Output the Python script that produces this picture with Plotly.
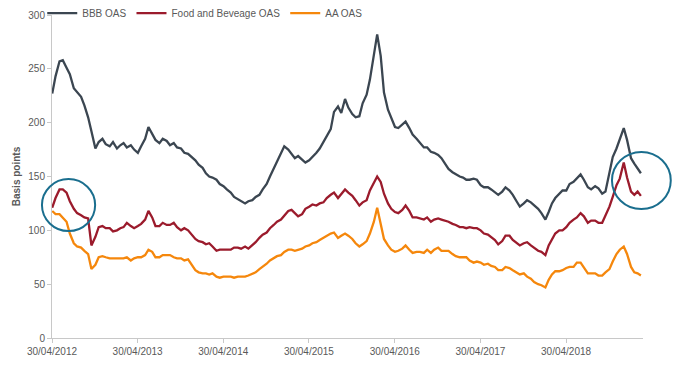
import pandas as pd
import plotly.graph_objects as go

# semi-monthly observation dates (1st and 15th of each month)
dates = pd.date_range("2012-05-01", periods=166, freq="SMS")

bbb_oas = [
    227, 243, 257, 258, 251, 245, 232, 228, 224, 216,
    205, 192, 176, 182, 185, 180, 178, 182, 176, 179,
    181, 177, 179, 175, 172, 178, 185, 196, 190, 184,
    181, 185, 183, 179, 181, 177, 176, 172, 171, 168,
    165, 161, 158, 153, 150, 149, 147, 143, 141, 138,
    135, 131, 129, 127, 125, 127, 128, 131, 133, 138,
    143, 150, 157, 163, 172, 178, 175, 171, 167, 169,
    166, 163, 165, 168, 172, 176, 182, 188, 194, 210,
    215, 209, 222, 214, 208, 205, 206, 218, 226, 240,
    262, 282, 262, 228, 212, 204, 196, 195, 198, 201,
    195, 189, 185, 181, 177, 177, 173, 172, 170, 167,
    162, 157, 154, 152, 150, 149, 147, 147, 148, 147,
    142, 140, 140, 138, 135, 133, 136, 140, 137, 133,
    127, 122, 125, 128, 126, 123, 120, 116, 110, 117,
    125, 130, 134, 137, 137, 143, 145, 148, 152, 147,
    140, 138, 141, 139, 134, 136, 155, 168, 176, 184,
    195, 184, 167, 162, 158, 153,
]

food_bev_oas = [
    121, 130, 138, 138, 135, 127, 120, 116, 114, 112,
    111, 86, 94, 103, 104, 102, 102, 99, 100, 102,
    103, 107, 104, 102, 104, 106, 110, 118, 112, 104,
    104, 107, 105, 105, 107, 103, 100, 102, 100, 96,
    92, 90, 89, 87, 88, 85, 81, 82, 82, 82,
    82, 84, 84, 83, 85, 83, 86, 89, 93, 96,
    98, 102, 105, 108, 110, 114, 118, 119, 116, 113,
    115, 120, 122, 124, 123, 125, 126, 130, 133, 135,
    130, 134, 138, 135, 132, 128, 123, 126, 128, 137,
    144, 150, 145, 134, 125, 120, 117, 116, 119, 123,
    118, 112, 112, 111, 110, 112, 108, 110, 111, 110,
    109, 108, 106, 105, 103, 103, 102, 103, 102, 102,
    100, 97, 96, 94, 91, 87, 90, 95, 95, 91,
    88, 86, 88, 89, 86, 84, 81, 80, 77, 86,
    92, 97, 100, 100, 103, 107, 110, 112, 116, 113,
    107, 109, 109, 107, 107, 114, 122, 131, 142, 148,
    163, 149, 136, 133, 136, 132,
]

aa_oas = [
    118, 115, 115, 112, 108, 97, 88, 85, 84, 81,
    78, 64, 68, 75, 76, 75, 74, 74, 74, 74,
    74, 75, 72, 74, 75, 75, 77, 82, 80, 75,
    75, 77, 77, 77, 75, 74, 74, 72, 73, 69,
    63, 61, 60, 60, 59, 60, 57, 56, 57, 57,
    57, 56, 57, 57, 57, 58, 60, 61, 64, 66,
    69, 72, 74, 76, 77, 80, 82, 82, 81, 82,
    83, 85, 86, 88, 89, 91, 93, 95, 97, 98,
    93, 95, 97, 95, 92, 88, 85, 87, 90, 97,
    108, 121, 105, 92, 86, 82, 80, 81, 83, 86,
    82, 79, 80, 80, 79, 82, 79, 82, 84, 81,
    81, 81, 78, 76, 75, 75, 75, 72, 70, 71,
    70, 68, 69, 67, 66, 63, 63, 66, 65, 63,
    61, 59, 60, 57, 55, 52, 50, 49, 47, 54,
    59, 62, 62, 63, 65, 66, 66, 70, 70, 65,
    60, 60, 60, 58, 58, 61, 64, 71, 78, 82,
    85, 78, 66, 61, 60, 58,
]

series_names = ["BBB OAS", "Food and Beveage OAS", "AA OAS"]
series_colors = ["#3b4651", "#9b1b2c", "#f5870c"]

tick_dates = ["2012-04-30", "2013-04-30", "2014-04-30", "2015-04-30",
              "2016-04-30", "2017-04-30", "2018-04-30"]
tick_labels = ["30/04/2012", "30/04/2013", "30/04/2014", "30/04/2015",
               "30/04/2016", "30/04/2017", "30/04/2018"]

FONT = "Liberation Sans, Arial, sans-serif"
GREY = "#595959"
AXIS = "#c8c8c8"

fig = go.Figure()
for name, vals, col in zip(series_names, [bbb_oas, food_bev_oas, aa_oas], series_colors):
    fig.add_trace(go.Scatter(x=dates, y=vals, mode="lines", name=name,
                             line=dict(color=col, width=2.3)))

circle = dict(type="circle", xref="paper", yref="paper",
              line=dict(color="#1a6e8e", width=2), fillcolor="rgba(0,0,0,0)")
fig.add_shape(**circle, x0=-0.017, x1=0.073, y0=0.331, y1=0.492)
fig.add_shape(**circle, x0=0.9475, x1=1.047, y0=0.399, y1=0.576)

fig.update_layout(
    width=680, height=366,
    margin=dict(l=52, r=37, t=15, b=28, autoexpand=False),
    paper_bgcolor="white", plot_bgcolor="white",
    font=dict(family=FONT, size=10, color=GREY),
    showlegend=True,
    legend=dict(orientation="h", x=-0.0165, xanchor="left", y=1.006, yanchor="middle",
                font=dict(size=10, color=GREY), bgcolor="rgba(0,0,0,0)",
                itemwidth=30, tracegroupgap=0),
)
fig.update_xaxes(
    type="date", range=["2012-04-30", "2019-03-24"],
    tickvals=tick_dates, ticktext=tick_labels,
    showgrid=False, zeroline=False,
    showline=True, linecolor=AXIS, linewidth=1,
    ticks="outside", ticklen=4, tickcolor=AXIS,
    tickfont=dict(size=10, color=GREY),
)
fig.update_yaxes(
    range=[0, 300], dtick=50,
    showgrid=False, zeroline=False,
    showline=True, linecolor=AXIS, linewidth=1,
    ticks="outside", ticklen=4, tickcolor=AXIS,
    tickfont=dict(size=10, color=GREY),
    title=dict(text="<b>Basis points</b>", font=dict(size=10, color=GREY), standoff=5),
)

fig.write_html("out.html",
               config={"displayModeBar": False},
               post_script="document.body.style.margin='0';document.body.style.padding='0';")
